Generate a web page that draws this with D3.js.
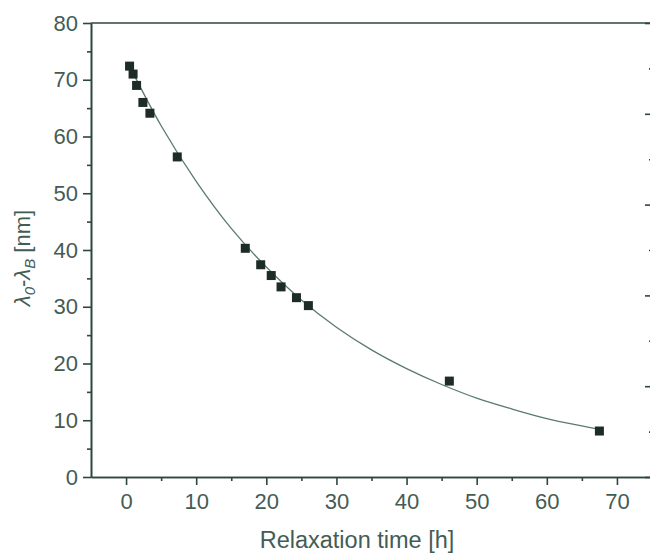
<!DOCTYPE html>
<html>
<head>
<meta charset="utf-8">
<script src="https://cdn.jsdelivr.net/npm/d3@7"></script>
<style>
  html, body { margin: 0; padding: 0; background: #ffffff; }
  svg { display: block; }
</style>
</head>
<body>
<svg id="chart" width="650" height="557"></svg>
<script>
// ---- data ----
const relaxTime = [0.5, 1.0, 1.5, 2.4, 3.4, 7.3, 17.0, 19.2, 20.7, 22.1, 24.3, 26.0, 46.1, 67.5];
const wavelengthShift = [72.4, 71.0, 69.0, 66.0, 64.1, 56.4, 40.3, 37.4, 35.5, 33.5, 31.6, 30.2, 16.9, 8.1];
// fitted curve
const fitTime = [0.5, 5, 10, 15, 20, 25, 30, 35, 40, 45, 50, 55, 60, 65, 67.5];
const fitShift = [72.4, 61.9, 52.1, 43.8, 37.0, 31.2, 26.4, 22.4, 19.1, 16.3, 13.9, 12.0, 10.3, 9.0, 8.4];
const xTickValues = [0, 10, 20, 30, 40, 50, 60, 70];
const xMinorValues = [5, 15, 25, 35, 45, 55, 65];
const yTickValues = [0, 10, 20, 30, 40, 50, 60, 70, 80];
const yMinorValues = [5, 15, 25, 35, 45, 55, 65, 75];
const rightTickValues = [0, 20, 40, 60, 80, 100];
const rightMinorValues = [10, 30, 50, 70, 90];
const xTitle = "Relaxation time [h]";

// ---- drawing ----
const svg = d3.select("#chart");
const axisColor = "#2e4640";
const textColor = "#435c56";
const font = "'Liberation Sans', Arial, sans-serif";

const pLeft = 91, pRight = 652, pTop = 23, pBottom = 477;
const x = d3.scaleLinear().domain([-5, 75]).range([pLeft, pRight]);
const y = d3.scaleLinear().domain([0, 80]).range([pBottom, pTop]);
const yRight = d3.scaleLinear().domain([0, 100]).range([pBottom, pTop]);

function styleAxis(g) {
  g.select(".domain").attr("stroke", axisColor).attr("stroke-width", 1.6);
  g.selectAll(".tick line").attr("stroke", axisColor).attr("stroke-width", 1.6);
  g.selectAll(".tick text").attr("fill", textColor)
    .style("font-family", font).style("font-size", "22px");
}

// bottom axis
const gx = svg.append("g").attr("transform", `translate(0,${pBottom})`)
  .call(d3.axisBottom(x).tickValues(xTickValues).tickSize(8).tickPadding(8).tickSizeOuter(0));
styleAxis(gx);
const gxm = svg.append("g").attr("transform", `translate(0,${pBottom})`)
  .call(d3.axisBottom(x).tickValues(xMinorValues).tickSize(4).tickFormat("").tickSizeOuter(0));
styleAxis(gxm);

// left axis
const gy = svg.append("g").attr("transform", `translate(${pLeft},0)`)
  .call(d3.axisLeft(y).tickValues(yTickValues).tickSize(8).tickPadding(5).tickSizeOuter(0));
styleAxis(gy);
const gym = svg.append("g").attr("transform", `translate(${pLeft},0)`)
  .call(d3.axisLeft(y).tickValues(yMinorValues).tickSize(4).tickFormat("").tickSizeOuter(0));
styleAxis(gym);

// top line
svg.append("line").attr("x1", pLeft).attr("x2", pRight).attr("y1", pTop).attr("y2", pTop)
  .attr("stroke", axisColor).attr("stroke-width", 1.6);

// right axis (ticks pointing inward)
const gr = svg.append("g").attr("transform", `translate(${pRight},0)`)
  .call(d3.axisLeft(yRight).tickValues(rightTickValues).tickSize(7).tickFormat("").tickSizeOuter(0));
styleAxis(gr);
const grm = svg.append("g").attr("transform", `translate(${pRight},0)`)
  .call(d3.axisLeft(yRight).tickValues(rightMinorValues).tickSize(3).tickFormat("").tickSizeOuter(0));
styleAxis(grm);

// fit curve
const fitData = fitTime.map((t, i) => [t, fitShift[i]]);
svg.append("path").datum(fitData)
  .attr("fill", "none").attr("stroke", "#5b7a71").attr("stroke-width", 1.3)
  .attr("d", d3.line().x(d => x(d[0])).y(d => y(d[1])).curve(d3.curveCatmullRom));

// markers
const pts = relaxTime.map((t, i) => [t, wavelengthShift[i]]);
const ms = 9;
svg.append("g").selectAll("rect").data(pts).join("rect")
  .attr("x", d => x(d[0]) - ms / 2).attr("y", d => y(d[1]) - ms / 2)
  .attr("width", ms).attr("height", ms)
  .attr("fill", "#1e2c28");

// x title
svg.append("text").attr("x", 357).attr("y", 548).attr("text-anchor", "middle")
  .attr("fill", textColor).style("font-family", font).style("font-size", "23.5px")
  .text(xTitle);

// y title
const yt = svg.append("text")
  .attr("transform", `translate(30,${(pTop + pBottom) / 2 + 8}) rotate(-90)`)
  .attr("text-anchor", "middle").attr("fill", textColor)
  .style("font-family", font).style("font-size", "22px");
yt.append("tspan").style("font-style", "italic").text("λ");
yt.append("tspan").style("font-style", "italic").style("font-size", "15px").attr("dy", 5).text("0");
yt.append("tspan").attr("dy", -5).text("-");
yt.append("tspan").style("font-style", "italic").text("λ");
yt.append("tspan").style("font-style", "italic").style("font-size", "15px").attr("dy", 5).text("B");
yt.append("tspan").attr("dy", -5).text(" [nm]");
</script>
</body>
</html>
